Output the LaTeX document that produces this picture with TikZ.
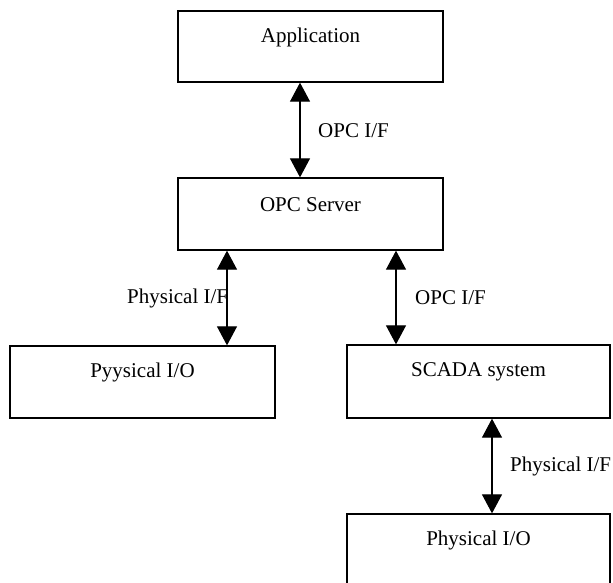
\documentclass[tikz,border=0pt]{standalone}
\usepackage{fontspec}
\setmainfont{Liberation Serif}
\usetikzlibrary{arrows.meta}
\begin{document}
\begin{tikzpicture}[x=1pt,y=1pt,
  box/.style={draw, line width=1.3pt, rectangle, inner sep=0pt},
  lab/.style={anchor=center, yshift=-27pt, font=\fontsize{21}{25}\selectfont},
  txt/.style={anchor=west, inner sep=0pt, font=\fontsize{21}{25}\selectfont},
  dbl/.style={line width=1.1pt, {Triangle[width=20pt,length=19pt]}-{Triangle[width=20pt,length=19pt]}}]
\useasboundingbox (0,0) rectangle (613,-582);
\node[box, minimum width=265pt, minimum height=71pt, label={[lab]north:Application}] (app) at (310.5,-46.5) {};
\node[box, minimum width=265pt, minimum height=72pt, label={[lab]north:OPC Server}] (opc) at (310.5,-214) {};
\node[box, minimum width=265pt, minimum height=72pt, label={[lab]north:Pyysical I/O}] (pio) at (142.5,-382) {};
\node[box, minimum width=263pt, minimum height=73pt, label={[lab]north:SCADA system}] (scada) at (478.5,-381.5) {};
\node[box, minimum width=263pt, minimum height=74pt, label={[lab]north:Physical I/O}] (phys) at (478.5,-551) {};
\draw[dbl] (app.south -| 300,0) -- (opc.north -| 300,0);
\draw[dbl] (opc.south -| 227,0) -- (pio.north -| 227,0);
\draw[dbl] (opc.south -| 396,0) -- (scada.north -| 396,0);
\draw[dbl] (scada.south -| 492,0) -- (phys.north -| 492,0);
\node[txt] (l1) at (318,-131) {OPC I/F};
\node[txt] (l2) at (127,-298) {Physical I/F};
\node[txt] (l3) at (415,-298) {OPC I/F};
\node[txt] (l4) at (510,-466) {Physical I/F};
\end{tikzpicture}
\end{document}
